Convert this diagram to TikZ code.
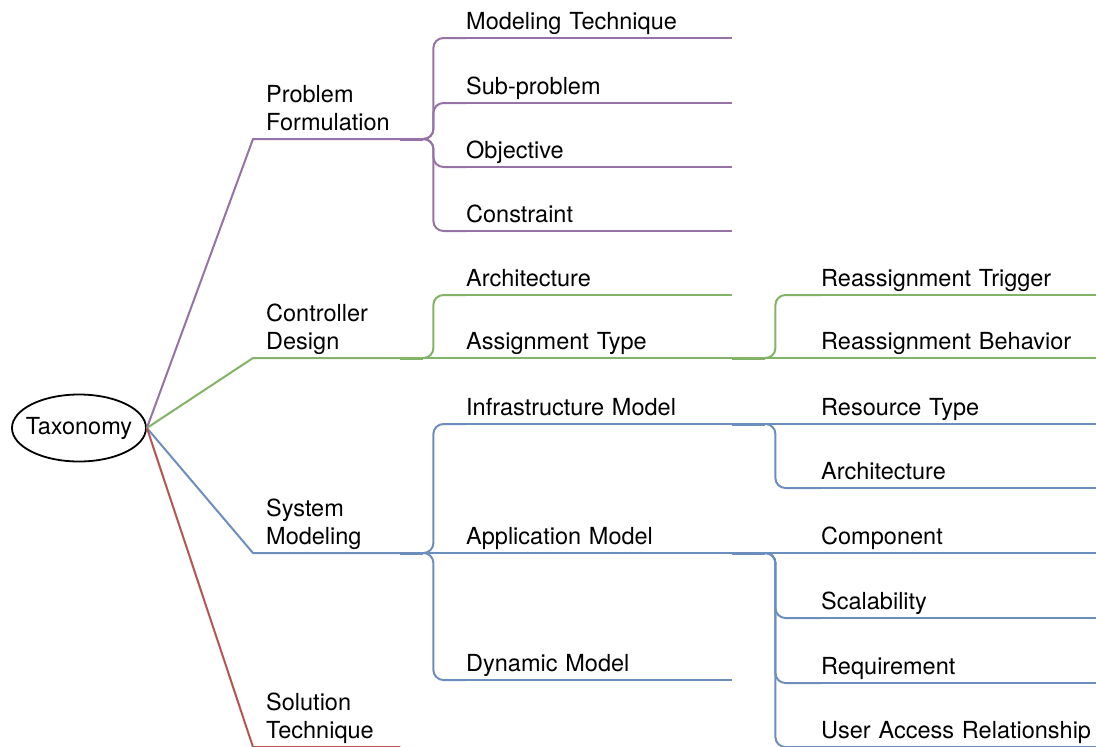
\documentclass[tikz,border=0pt]{standalone}
\usepackage{fontspec}
\setmainfont{TeX Gyre Heros}
\usetikzlibrary{shapes.geometric}
\definecolor{pur}{HTML}{9673A6}
\definecolor{grn}{HTML}{82B366}
\definecolor{blu}{HTML}{6C8EBF}
\definecolor{rd}{HTML}{B85450}
\begin{document}
\begin{tikzpicture}[x=1pt,y=-1pt,
  every node/.style={font=\fontsize{23.5}{28}\selectfont, text=black},
  topic/.style={anchor=south west, inner sep=0pt, text depth=8.5pt, align=left},
  main/.style={topic, text width=134pt, text depth=36.5pt},
  sub/.style={topic, text width=266pt},
  leaf/.style={topic, text width=275pt},
  wire/.style={line width=2pt},
  link/.style={wire, rounded corners=10pt},
  stub/.style={line width=3pt}
]
\useasboundingbox (0,0) rectangle (1096,747);

% root
\node[ellipse, draw, line width=1.8pt, minimum width=134pt, minimum height=67pt, inner sep=0pt] (tax) at (79,428) {\makebox[0pt]{Taxonomy}};

% first-level topics
\node[main] (pf) at (266,139) {Problem\\Formulation};
\node[main] (cd) at (266,358) {Controller\\Design};
\node[main] (sm) at (266,553) {System\\Modeling};
\node[main] (st) at (266,747) {Solution\\Technique};

% second-level topics
\node[sub] (mt) at (466,38)  {Modeling Technique};
\node[sub] (sp) at (466,103) {Sub-problem};
\node[sub] (ob) at (466,167) {Objective};
\node[sub] (co) at (466,231) {Constraint};
\node[sub] (ar) at (466,295) {Architecture};
\node[sub] (at) at (466,358) {Assignment Type};
\node[sub] (im) at (466,424) {Infrastructure Model};
\node[sub] (am) at (466,553) {Application Model};
\node[sub] (dm) at (466,680) {Dynamic Model};

% third-level topics
\node[leaf] (rt) at (821,295) {Reassignment Trigger};
\node[leaf] (rb) at (821,358) {Reassignment Behavior};
\node[leaf] (ry) at (821,424) {Resource Type};
\node[leaf] (ia) at (821,488) {Architecture};
\node[leaf] (cp) at (821,553) {Component};
\node[leaf] (sc) at (821,618) {Scalability};
\node[leaf] (rq) at (821,683) {Requirement};
\node[leaf] (ua) at (821,747) {User Access Relationship};

% root to first level
\draw[wire, pur] (tax.east) -- ([xshift=-13pt]pf.south west) -- (pf.south east);
\draw[wire, grn] (tax.east) -- ([xshift=-13pt]cd.south west) -- (cd.south east);
\draw[wire, blu] (tax.east) -- ([xshift=-13pt]sm.south west) -- (sm.south east);
\draw[wire, rd]  (tax.east) -- ([xshift=-13pt]st.south west) -- (st.south east);

% Problem Formulation branch
\foreach \c in {mt,sp,ob,co}{
  \draw[link, pur] (pf.south east) -- ++(33,0) |- (\c.south west);
  \draw[wire, pur] (\c.south west) -- (\c.south east);
}
\draw[stub, pur] (pf.south east) -- ++(23,0);

% Controller Design branch
\draw[link, grn] (cd.south east) -- ++(33,0) |- (ar.south west);
\draw[wire, grn] (ar.south west) -- (ar.south east);
\draw[wire, grn] (cd.south east) -- (at.south west) -- (at.south east);
\draw[stub, grn] (cd.south east) -- ++(23,0);
\draw[link, grn] (at.south east) -- ++(43,0) |- (rt.south west);
\draw[wire, grn] (rt.south west) -- (rt.south east);
\draw[wire, grn] (at.south east) -- (rb.south west) -- (rb.south east);
\draw[stub, grn] (at.south east) -- ++(33,0);

% System Modeling branch
\foreach \c in {im,dm}{
  \draw[link, blu] (sm.south east) -- ++(33,0) |- (\c.south west);
  \draw[wire, blu] (\c.south west) -- (\c.south east);
}
\draw[wire, blu] (sm.south east) -- (am.south west) -- (am.south east);
\draw[stub, blu] (sm.south east) -- ++(23,0);

\draw[link, blu] (im.south east) -- ++(43,0) |- (ia.south west);
\draw[wire, blu] (ia.south west) -- (ia.south east);
\draw[wire, blu] (im.south east) -- (ry.south west) -- (ry.south east);
\draw[stub, blu] (im.south east) -- ++(33,0);

\foreach \c in {sc,rq,ua}{
  \draw[link, blu] (am.south east) -- ++(43,0) |- (\c.south west);
  \draw[wire, blu] (\c.south west) -- (\c.south east);
}
\draw[wire, blu] (am.south east) -- (cp.south west) -- (cp.south east);
\draw[stub, blu] (am.south east) -- ++(33,0);
\end{tikzpicture}
\end{document}
